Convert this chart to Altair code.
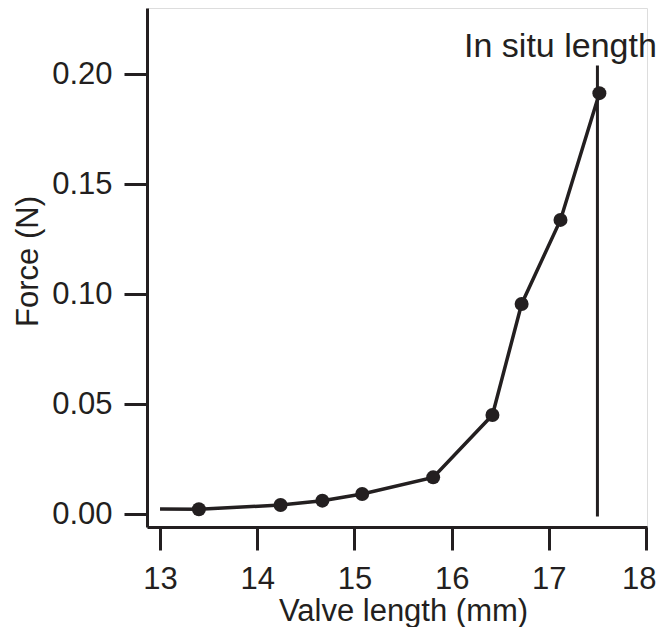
import altair as alt
import pandas as pd

# Data
valve_length = [13.0, 13.40, 14.24, 14.67, 15.08, 15.81, 16.42, 16.72, 17.12, 17.52]
force = [0.0024, 0.0023, 0.0042, 0.0062, 0.0092, 0.0168, 0.0451, 0.0956, 0.1338, 0.1914]
has_marker = [False, True, True, True, True, True, True, True, True, True]

in_situ_length = [17.5]
in_situ_low = [-0.001]
in_situ_high = [0.204]
annotation = ["In situ length"]
annotation_y = [0.2079]

x_ticks = [13, 14, 15, 16, 17, 18]
y_ticks = [0.00, 0.05, 0.10, 0.15, 0.20]

INK = "#231f20"
FONT = "Liberation Sans"

df = pd.DataFrame({"x": valve_length, "y": force, "m": has_marker})
df_pts = df[df["m"]]
df_rule = pd.DataFrame({"x": in_situ_length, "y": in_situ_low, "y2": in_situ_high})
df_txt = pd.DataFrame({"x": in_situ_length, "y": annotation_y, "t": annotation})

xscale = alt.Scale(domain=[12.866, 18.01], nice=False, zero=False)
yscale = alt.Scale(domain=[-0.00577, 0.2301], nice=False, zero=False)

xaxis = alt.Axis(
    title="Valve length (mm)", values=x_ticks, format="d", grid=False,
    tickSize=23, tickWidth=3, tickColor=INK, domainColor=INK, domainWidth=3,
    labelFont=FONT, labelFontSize=31, labelColor=INK, labelPadding=14,
    labelFlush=5, labelFlushOffset=10, labelOverlap=False,
    titleFont=FONT, titleFontSize=31, titleFontWeight="normal", titleColor=INK,
    titleBaseline="alphabetic", titleY=93, titleX=256, titleAlign="center",
)
yaxis = alt.Axis(
    title="Force (N)", values=y_ticks, format=".2f", grid=False,
    tickSize=23, tickWidth=3, tickColor=INK, domainColor=INK, domainWidth=3,
    labelFont=FONT, labelFontSize=31, labelColor=INK, labelPadding=12,
    labelFlush=False, labelOverlap=False,
    titleFont=FONT, titleFontSize=31, titleFontWeight="normal", titleColor=INK,
    titleAngle=-90, titleBaseline="alphabetic", titleX=-110, titleY=253,
    titleAlign="center",
)

base_x = alt.X("x:Q", scale=xscale, axis=xaxis)
base_y = alt.Y("y:Q", scale=yscale, axis=yaxis)

line = alt.Chart(df).mark_line(color=INK, strokeWidth=3.5).encode(x=base_x, y=base_y)
pts = alt.Chart(df_pts).mark_point(filled=True, color=INK, size=196, opacity=1, shape="circle").encode(
    x=alt.X("x:Q", scale=xscale), y=alt.Y("y:Q", scale=yscale)
)
rule = alt.Chart(df_rule).mark_rule(color=INK, strokeWidth=3).encode(
    x=alt.X("x:Q", scale=xscale), y=alt.Y("y:Q", scale=yscale), y2="y2:Q"
)
txt = alt.Chart(df_txt).mark_text(
    font=FONT, fontSize=34, color=INK, align="center", baseline="alphabetic", dx=-37
).encode(x=alt.X("x:Q", scale=xscale), y=alt.Y("y:Q", scale=yscale), text="t:N")

chart = (
    alt.layer(rule, line, pts, txt)
    .properties(
        width=500, height=519,
        autosize=alt.AutoSizeParams(type="none"),
        padding={"left": 139, "top": 0, "right": 10, "bottom": 100},
    )
    .configure_view(stroke=None)
    .configure(background="white")
)

chart.save("out.html", embed_options={"renderer": "svg", "actions": False})
